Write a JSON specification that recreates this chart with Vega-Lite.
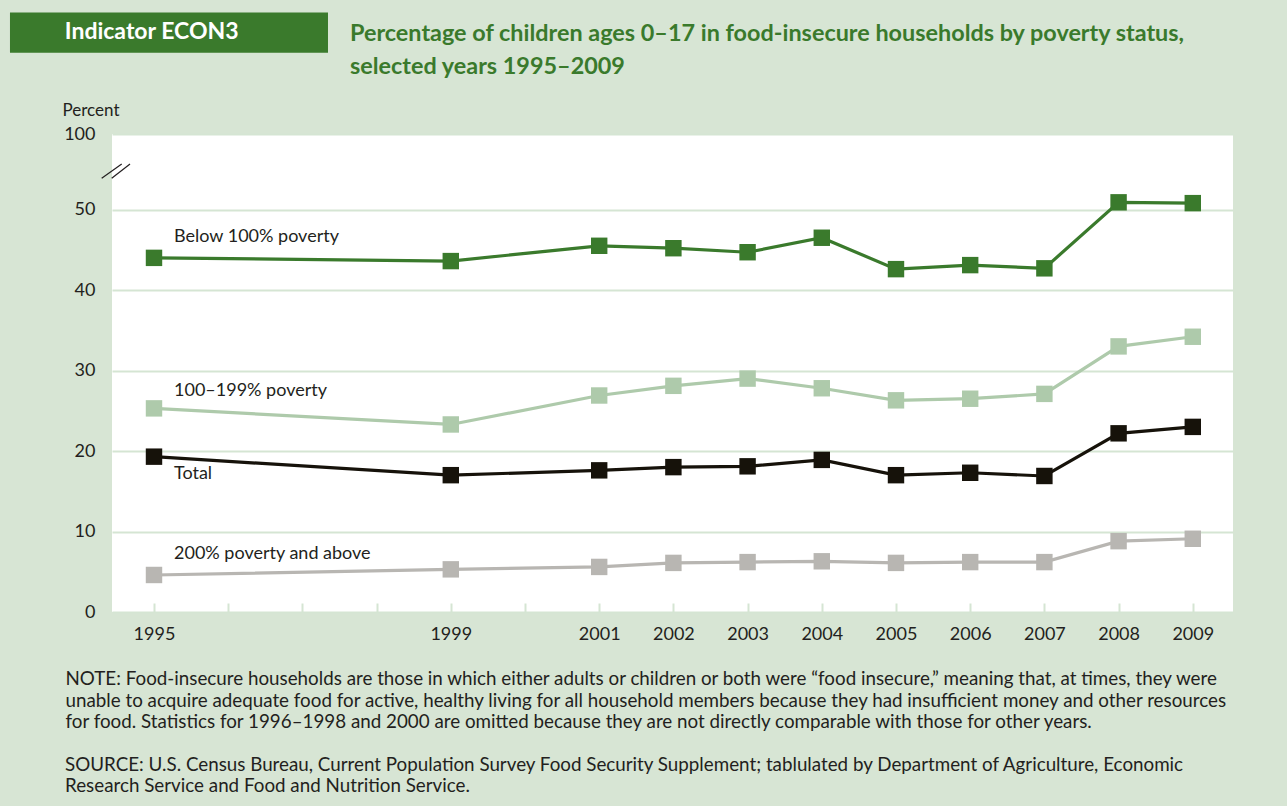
{
  "$schema": "https://vega.github.io/schema/vega-lite/v6.json",
  "width": 1121,
  "height": 478,
  "autosize": {"type": "none"},
  "padding": {"left": 112, "top": 134, "right": 54, "bottom": 194},
  "background": "#d7e5d4",
  "config": {
    "view": {"fill": "white", "stroke": null},
    "font": "Lato",
    "text": {"font": "Lato"}
  },
  "title": {
    "text": ["Percentage of children ages 0–17 in food-insecure households by poverty status,", "selected years 1995–2009"],
    "color": "#3a7a2c",
    "font": "Lato",
    "fontSize": 23.4,
    "fontWeight": "bold",
    "anchor": "start",
    "frame": "group",
    "dx": 238,
    "lineHeight": 33,
    "offset": -67
  },
  "datasets": {
    "food": [
      {"series": "Below 100% poverty", "year": 1995, "value": 44.0},
      {"series": "Below 100% poverty", "year": 1999, "value": 43.6},
      {"series": "Below 100% poverty", "year": 2001, "value": 45.5},
      {"series": "Below 100% poverty", "year": 2002, "value": 45.2},
      {"series": "Below 100% poverty", "year": 2003, "value": 44.7},
      {"series": "Below 100% poverty", "year": 2004, "value": 46.5},
      {"series": "Below 100% poverty", "year": 2005, "value": 42.6},
      {"series": "Below 100% poverty", "year": 2006, "value": 43.1},
      {"series": "Below 100% poverty", "year": 2007, "value": 42.7},
      {"series": "Below 100% poverty", "year": 2008, "value": 50.9},
      {"series": "Below 100% poverty", "year": 2009, "value": 50.8},
      {"series": "100–199% poverty", "year": 1995, "value": 25.3},
      {"series": "100–199% poverty", "year": 1999, "value": 23.3},
      {"series": "100–199% poverty", "year": 2001, "value": 26.9},
      {"series": "100–199% poverty", "year": 2002, "value": 28.1},
      {"series": "100–199% poverty", "year": 2003, "value": 29.0},
      {"series": "100–199% poverty", "year": 2004, "value": 27.8},
      {"series": "100–199% poverty", "year": 2005, "value": 26.3},
      {"series": "100–199% poverty", "year": 2006, "value": 26.5},
      {"series": "100–199% poverty", "year": 2007, "value": 27.1},
      {"series": "100–199% poverty", "year": 2008, "value": 33.0},
      {"series": "100–199% poverty", "year": 2009, "value": 34.2},
      {"series": "Total", "year": 1995, "value": 19.3},
      {"series": "Total", "year": 1999, "value": 17.0},
      {"series": "Total", "year": 2001, "value": 17.6},
      {"series": "Total", "year": 2002, "value": 18.0},
      {"series": "Total", "year": 2003, "value": 18.1},
      {"series": "Total", "year": 2004, "value": 18.9},
      {"series": "Total", "year": 2005, "value": 17.0},
      {"series": "Total", "year": 2006, "value": 17.3},
      {"series": "Total", "year": 2007, "value": 16.9},
      {"series": "Total", "year": 2008, "value": 22.2},
      {"series": "Total", "year": 2009, "value": 23.0},
      {"series": "200% poverty and above", "year": 1995, "value": 4.6},
      {"series": "200% poverty and above", "year": 1999, "value": 5.3},
      {"series": "200% poverty and above", "year": 2001, "value": 5.6},
      {"series": "200% poverty and above", "year": 2002, "value": 6.1},
      {"series": "200% poverty and above", "year": 2003, "value": 6.2},
      {"series": "200% poverty and above", "year": 2004, "value": 6.3},
      {"series": "200% poverty and above", "year": 2005, "value": 6.1},
      {"series": "200% poverty and above", "year": 2006, "value": 6.2},
      {"series": "200% poverty and above", "year": 2007, "value": 6.2},
      {"series": "200% poverty and above", "year": 2008, "value": 8.8},
      {"series": "200% poverty and above", "year": 2009, "value": 9.1}
    ]
  },
  "data": {"name": "food"},
  "layer": [
    {
      "mark": {"type": "line", "strokeWidth": 3.2},
      "encoding": {
        "x": {
          "field": "year", "type": "quantitative",
          "scale": {"domain": [1994.434, 2009.542], "nice": false, "zero": false},
          "axis": {
            "values": [1995, 1996, 1997, 1998, 1999, 2000, 2001, 2002, 2003, 2004, 2005, 2006, 2007, 2008, 2009],
            "format": "d",
            "labelExpr": "indexof([1996, 1997, 1998, 2000], datum.value) >= 0 ? '' : datum.label",
            "domain": false,
            "grid": false,
            "ticks": true,
            "tickSize": -9,
            "tickColor": "#d5e5d3",
            "tickWidth": 2,
            "labelFontSize": 18,
            "labelColor": "#231f20",
            "labelPadding": 22,
            "labelFont": "Lato",
            "title": [
              "NOTE: Food-insecure households are those in which either adults or children or both were “food insecure,” meaning that, at times, they were",
              "unable to acquire adequate food for active, healthy living for all household members because they had insufficient money and other resources",
              "for food. Statistics for 1996–1998 and 2000 are omitted because they are not directly comparable with those for other years."
            ],
            "titleFont": "Lato",
            "titleFontSize": 18.8,
            "titleFontWeight": "normal",
            "titleColor": "#231f20",
            "titleAnchor": "start",
            "titleAlign": "left",
            "titleBaseline": "alphabetic",
            "titleX": -47,
            "titleY": 72.5,
            "titleLineHeight": 21.5
          }
        },
        "y": {
          "field": "value", "type": "quantitative",
          "scale": {"domain": [0, 59.39], "nice": false, "zero": true},
          "axis": {
            "values": [0, 10, 20, 30, 40, 50, 59.39],
            "labelExpr": "datum.value > 55 ? '100' : datum.label",
            "domain": false,
            "ticks": false,
            "grid": true,
            "gridColor": "#d5e5d3",
            "gridWidth": 2,
            "labelFontSize": 18,
            "labelColor": "#231f20",
            "labelPadding": 17,
            "labelFont": "Lato",
            "title": "Percent",
            "titleFont": "Lato",
            "titleFontSize": 17,
            "titleFontWeight": "normal",
            "titleColor": "#231f20",
            "titleAngle": 0,
            "titleAlign": "left",
            "titleBaseline": "alphabetic",
            "titleX": -50,
            "titleY": -19
          }
        },
        "color": {
          "field": "series", "type": "nominal",
          "scale": {
            "domain": ["Below 100% poverty", "100–199% poverty", "Total", "200% poverty and above"],
            "range": ["#3a7a2c", "#aecaab", "#16120a", "#b8b6b2"]
          },
          "legend": null
        }
      }
    },
    {
      "mark": {"type": "point", "shape": "square", "filled": true, "size": 270, "opacity": 1},
      "encoding": {
        "x": {"field": "year", "type": "quantitative"},
        "y": {"field": "value", "type": "quantitative"},
        "color": {"field": "series", "type": "nominal", "legend": null}
      }
    },
    {
      "transform": [{"filter": "datum.year == 1995 && (datum.series == 'Below 100% poverty' || datum.series == '200% poverty and above')"}],
      "mark": {"type": "text", "align": "left", "baseline": "middle", "dx": 20, "dy": -21, "fontSize": 18, "color": "#231f20", "font": "Lato"},
      "encoding": {
        "x": {"field": "year", "type": "quantitative"},
        "y": {"field": "value", "type": "quantitative"},
        "text": {"field": "series"}
      }
    },
    {
      "transform": [{"filter": "datum.year == 1995 && datum.series == '100–199% poverty'"}],
      "mark": {"type": "text", "align": "left", "baseline": "middle", "dx": 20, "dy": -17, "fontSize": 18, "color": "#231f20", "font": "Lato"},
      "encoding": {
        "x": {"field": "year", "type": "quantitative"},
        "y": {"field": "value", "type": "quantitative"},
        "text": {"field": "series"}
      }
    },
    {
      "transform": [{"filter": "datum.year == 1995 && datum.series == 'Total'"}],
      "mark": {"type": "text", "align": "left", "baseline": "middle", "dx": 20, "dy": 17, "fontSize": 18, "color": "#231f20", "font": "Lato"},
      "encoding": {
        "x": {"field": "year", "type": "quantitative"},
        "y": {"field": "value", "type": "quantitative"},
        "text": {"field": "series"}
      }
    },
    {
      "data": {"values": [{}]},
      "mark": {
        "type": "text", "align": "left", "baseline": "alphabetic", "fontSize": 18.8, "color": "#231f20", "font": "Lato", "lineHeight": 21.5,
        "text": [
          "SOURCE: U.S. Census Bureau, Current Population Survey Food Security Supplement; tablulated by Department of Agriculture, Economic",
          "Research Service and Food and Nutrition Service."
        ]
      },
      "encoding": {
        "x": {"datum": 1993.801, "type": "quantitative"},
        "y": {"datum": -19.71, "type": "quantitative"}
      }
    },
    {
      "data": {"values": [{}]},
      "mark": {"type": "rect", "color": "#3a7a2c"},
      "encoding": {
        "x": {"datum": 1993.059, "type": "quantitative"},
        "x2": {"datum": 1997.345},
        "y": {"datum": 74.48, "type": "quantitative"},
        "y2": {"datum": 69.5}
      }
    },
    {
      "data": {"values": [{}]},
      "mark": {"type": "text", "color": "white", "fontSize": 23, "fontWeight": "bold", "align": "center", "baseline": "middle", "font": "Lato"},
      "encoding": {
        "x": {"datum": 1994.969, "type": "quantitative"},
        "y": {"datum": 72.08, "type": "quantitative"},
        "text": {"datum": "Indicator ECON3"}
      }
    },
    {
      "data": {"values": [{}]},
      "mark": {"type": "rule", "color": "#231f20", "strokeWidth": 1.2},
      "encoding": {
        "x": {"datum": 1994.295, "type": "quantitative"},
        "x2": {"datum": 1994.565},
        "y": {"datum": 53.88, "type": "quantitative"},
        "y2": {"datum": 55.66}
      }
    },
    {
      "data": {"values": [{}]},
      "mark": {"type": "rule", "color": "#231f20", "strokeWidth": 1.2},
      "encoding": {
        "x": {"datum": 1994.43, "type": "quantitative"},
        "x2": {"datum": 1994.677},
        "y": {"datum": 53.88, "type": "quantitative"},
        "y2": {"datum": 55.66}
      }
    }
  ]
}
